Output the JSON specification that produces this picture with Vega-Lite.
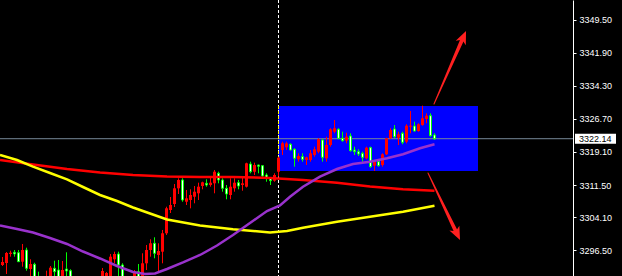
{
  "$schema": "https://vega.github.io/schema/vega-lite/v6.json",
  "width": 573,
  "height": 276,
  "autosize": {"type": "none"},
  "padding": {"left": 0, "top": 0, "right": 49, "bottom": 0},
  "background": "#000000",
  "config": {
    "view": {"stroke": null},
    "axisY": {"labelOverlap": false, "labelFlush": false, "labelBound": false, "labelSeparation": 0, "grid": false}
  },
  "resolve": {"axis": {"y": "independent", "x": "independent"}},
  "datasets": {
    "candles": [
      {"i":0,"o":3293.11,"h":3294.95,"l":3292.88,"c":3293.80},
      {"i":1,"o":3293.57,"h":3296.10,"l":3291.04,"c":3295.87},
      {"i":2,"o":3295.64,"h":3296.40,"l":3295.02,"c":3295.94},
      {"i":3,"o":3296.03,"h":3296.56,"l":3295.02,"c":3295.64},
      {"i":4,"o":3295.94,"h":3296.56,"l":3293.80,"c":3293.87},
      {"i":5,"o":3293.87,"h":3297.94,"l":3292.72,"c":3296.56},
      {"i":6,"o":3296.56,"h":3297.09,"l":3291.80,"c":3292.35},
      {"i":7,"o":3292.19,"h":3294.42,"l":3290.12,"c":3293.34},
      {"i":8,"o":3293.27,"h":3293.64,"l":3289.20,"c":3289.66},
      {"i":9,"o":3289.66,"h":3291.57,"l":3288.05,"c":3288.51},
      {"i":10,"o":3287.82,"h":3289.66,"l":3287.36,"c":3288.97},
      {"i":11,"o":3289.20,"h":3291.80,"l":3288.74,"c":3290.58},
      {"i":12,"o":3290.12,"h":3292.88,"l":3289.66,"c":3292.49},
      {"i":13,"o":3292.35,"h":3294.10,"l":3290.12,"c":3291.57},
      {"i":14,"o":3291.96,"h":3294.26,"l":3289.20,"c":3289.66},
      {"i":15,"o":3289.66,"h":3294.03,"l":3289.20,"c":3291.96},
      {"i":16,"o":3292.19,"h":3296.03,"l":3290.12,"c":3291.73},
      {"i":17,"o":3291.80,"h":3292.12,"l":3288.28,"c":3289.20},
      {"i":18,"o":3289.20,"h":3289.89,"l":3286.90,"c":3287.82},
      {"i":19,"o":3286.90,"h":3289.43,"l":3286.44,"c":3288.28},
      {"i":20,"o":3288.28,"h":3288.97,"l":3285.98,"c":3286.90},
      {"i":21,"o":3286.90,"h":3287.82,"l":3285.52,"c":3286.21},
      {"i":22,"o":3285.98,"h":3288.05,"l":3285.52,"c":3287.36},
      {"i":23,"o":3287.36,"h":3289.66,"l":3286.90,"c":3288.74},
      {"i":24,"o":3288.74,"h":3289.43,"l":3286.90,"c":3287.82},
      {"i":25,"o":3289.20,"h":3292.42,"l":3288.74,"c":3291.73},
      {"i":26,"o":3289.20,"h":3291.50,"l":3288.51,"c":3291.27},
      {"i":27,"o":3289.66,"h":3295.64,"l":3289.20,"c":3295.02},
      {"i":28,"o":3294.42,"h":3296.17,"l":3293.50,"c":3295.64},
      {"i":29,"o":3295.64,"h":3296.17,"l":3290.58,"c":3293.11},
      {"i":30,"o":3293.11,"h":3293.50,"l":3289.20,"c":3289.66},
      {"i":31,"o":3288.74,"h":3290.35,"l":3287.82,"c":3289.89},
      {"i":32,"o":3289.66,"h":3290.12,"l":3288.28,"c":3288.97},
      {"i":33,"o":3289.66,"h":3291.96,"l":3289.20,"c":3291.57},
      {"i":34,"o":3291.57,"h":3293.34,"l":3289.43,"c":3289.89},
      {"i":35,"o":3290.12,"h":3295.80,"l":3289.66,"c":3293.50},
      {"i":36,"o":3293.50,"h":3297.71,"l":3291.96,"c":3296.56},
      {"i":37,"o":3296.56,"h":3299.02,"l":3295.02,"c":3298.10},
      {"i":38,"o":3298.10,"h":3299.48,"l":3294.65,"c":3295.80},
      {"i":39,"o":3295.41,"h":3298.10,"l":3291.57,"c":3296.33},
      {"i":40,"o":3296.17,"h":3301.16,"l":3293.50,"c":3300.40},
      {"i":41,"o":3300.40,"h":3306.51,"l":3300.01,"c":3306.14},
      {"i":42,"o":3305.75,"h":3308.74,"l":3305.06,"c":3306.90},
      {"i":43,"o":3307.13,"h":3311.73,"l":3306.44,"c":3310.74},
      {"i":44,"o":3310.74,"h":3313.04,"l":3309.43,"c":3312.65},
      {"i":45,"o":3312.65,"h":3313.04,"l":3307.66,"c":3308.05},
      {"i":46,"o":3307.66,"h":3310.35,"l":3306.90,"c":3308.44},
      {"i":47,"o":3308.05,"h":3310.51,"l":3306.14,"c":3309.20},
      {"i":48,"o":3308.81,"h":3311.27,"l":3307.29,"c":3309.96},
      {"i":49,"o":3309.59,"h":3312.03,"l":3308.05,"c":3311.11},
      {"i":50,"o":3311.27,"h":3312.26,"l":3310.51,"c":3312.12},
      {"i":51,"o":3311.89,"h":3312.81,"l":3311.11,"c":3311.50},
      {"i":52,"o":3311.50,"h":3313.41,"l":3311.11,"c":3312.03},
      {"i":53,"o":3311.89,"h":3314.95,"l":3309.59,"c":3314.56},
      {"i":54,"o":3314.19,"h":3314.56,"l":3311.89,"c":3312.65},
      {"i":55,"o":3312.65,"h":3313.04,"l":3309.96,"c":3310.74},
      {"i":56,"o":3310.74,"h":3311.50,"l":3308.21,"c":3309.43},
      {"i":57,"o":3309.20,"h":3313.04,"l":3308.21,"c":3311.11},
      {"i":58,"o":3310.74,"h":3313.04,"l":3309.96,"c":3312.03},
      {"i":59,"o":3312.03,"h":3312.65,"l":3310.51,"c":3311.27},
      {"i":60,"o":3311.50,"h":3313.41,"l":3310.19,"c":3311.89},
      {"i":61,"o":3311.11,"h":3316.63,"l":3310.93,"c":3316.49},
      {"i":62,"o":3316.33,"h":3316.86,"l":3314.19,"c":3314.56},
      {"i":63,"o":3314.56,"h":3316.63,"l":3313.80,"c":3316.10},
      {"i":64,"o":3316.10,"h":3316.17,"l":3314.19,"c":3315.80},
      {"i":65,"o":3315.94,"h":3316.10,"l":3313.04,"c":3313.57},
      {"i":66,"o":3313.80,"h":3314.19,"l":3312.26,"c":3313.27},
      {"i":67,"o":3313.04,"h":3313.23,"l":3311.50,"c":3312.49},
      {"i":68,"o":3312.49,"h":3314.19,"l":3312.26,"c":3313.80},
      {"i":69,"o":3314.56,"h":3317.94,"l":3313.41,"c":3317.78},
      {"i":70,"o":3319.55,"h":3321.46,"l":3318.40,"c":3321.09},
      {"i":71,"o":3320.17,"h":3321.46,"l":3319.55,"c":3321.09},
      {"i":72,"o":3320.86,"h":3321.09,"l":3319.39,"c":3319.55},
      {"i":73,"o":3319.71,"h":3319.94,"l":3315.71,"c":3317.64},
      {"i":74,"o":3317.41,"h":3318.79,"l":3316.86,"c":3318.17},
      {"i":75,"o":3318.01,"h":3318.79,"l":3316.86,"c":3317.41},
      {"i":76,"o":3317.25,"h":3318.01,"l":3316.10,"c":3317.87},
      {"i":77,"o":3317.25,"h":3319.55,"l":3316.86,"c":3318.79},
      {"i":78,"o":3318.40,"h":3320.31,"l":3318.01,"c":3319.71},
      {"i":79,"o":3319.16,"h":3322.24,"l":3318.79,"c":3322.01},
      {"i":80,"o":3321.85,"h":3322.01,"l":3316.86,"c":3317.87},
      {"i":81,"o":3317.64,"h":3322.60,"l":3316.86,"c":3320.70},
      {"i":82,"o":3320.70,"h":3324.54,"l":3320.31,"c":3324.31},
      {"i":83,"o":3323.75,"h":3326.44,"l":3323.39,"c":3324.54},
      {"i":84,"o":3324.31,"h":3324.54,"l":3322.01,"c":3322.24},
      {"i":85,"o":3322.24,"h":3323.75,"l":3321.46,"c":3321.69},
      {"i":86,"o":3321.69,"h":3323.52,"l":3321.09,"c":3322.60},
      {"i":87,"o":3322.77,"h":3323.39,"l":3319.16,"c":3319.39},
      {"i":88,"o":3319.55,"h":3320.31,"l":3318.40,"c":3319.16},
      {"i":89,"o":3319.16,"h":3319.71,"l":3318.17,"c":3318.63},
      {"i":90,"o":3318.79,"h":3319.16,"l":3316.86,"c":3317.87},
      {"i":91,"o":3317.64,"h":3320.31,"l":3317.41,"c":3320.08},
      {"i":92,"o":3320.08,"h":3320.31,"l":3315.48,"c":3315.71},
      {"i":93,"o":3315.94,"h":3317.25,"l":3314.72,"c":3316.86},
      {"i":94,"o":3316.86,"h":3317.25,"l":3315.71,"c":3315.94},
      {"i":95,"o":3316.10,"h":3318.79,"l":3315.71,"c":3318.56},
      {"i":96,"o":3318.56,"h":3322.37,"l":3318.40,"c":3322.24},
      {"i":97,"o":3322.24,"h":3324.54,"l":3322.14,"c":3324.14},
      {"i":98,"o":3324.37,"h":3325.29,"l":3322.24,"c":3322.60},
      {"i":99,"o":3322.37,"h":3323.75,"l":3320.70,"c":3323.16},
      {"i":100,"o":3323.39,"h":3323.75,"l":3320.86,"c":3321.32},
      {"i":101,"o":3321.46,"h":3325.46,"l":3321.09,"c":3325.13},
      {"i":102,"o":3324.90,"h":3328.51,"l":3323.39,"c":3325.13},
      {"i":103,"o":3325.06,"h":3326.05,"l":3323.75,"c":3323.92},
      {"i":104,"o":3323.92,"h":3325.69,"l":3323.75,"c":3325.46},
      {"i":105,"o":3325.29,"h":3329.73,"l":3325.13,"c":3326.83},
      {"i":106,"o":3326.67,"h":3327.98,"l":3325.69,"c":3327.43},
      {"i":107,"o":3327.43,"h":3327.98,"l":3322.60,"c":3322.83},
      {"i":108,"o":3323.00,"h":3323.39,"l":3321.85,"c":3322.14}
    ],
    "ma": [
      {"ma":"slow","i":-0.625,"p":3317.25},{"ma":"slow","i":7.625,"p":3316.21},{"ma":"slow","i":16.125,"p":3315.18},
      {"ma":"slow","i":24.375,"p":3314.37},{"ma":"slow","i":32.625,"p":3313.80},{"ma":"slow","i":41.125,"p":3313.46},
      {"ma":"slow","i":49.375,"p":3313.34},{"ma":"slow","i":57.625,"p":3313.34},{"ma":"slow","i":66.875,"p":3313.11},
      {"ma":"slow","i":75.125,"p":3312.65},{"ma":"slow","i":83.625,"p":3312.03},{"ma":"slow","i":91.875,"p":3311.16},
      {"ma":"slow","i":100.125,"p":3310.51},{"ma":"slow","i":108,"p":3310.19},
      {"ma":"mid","i":-0.625,"p":3318.40},{"ma":"mid","i":3.625,"p":3317.25},{"ma":"mid","i":7.625,"p":3315.71},
      {"ma":"mid","i":11.875,"p":3314.26},{"ma":"mid","i":16.125,"p":3312.81},{"ma":"mid","i":20.125,"p":3311.04},
      {"ma":"mid","i":24.375,"p":3309.20},{"ma":"mid","i":28.625,"p":3307.82},{"ma":"mid","i":32.625,"p":3306.33},
      {"ma":"mid","i":36.875,"p":3304.95},{"ma":"mid","i":41.125,"p":3303.57},{"ma":"mid","i":49.375,"p":3302.19},
      {"ma":"mid","i":57.625,"p":3301.32},{"ma":"mid","i":66.875,"p":3300.58},{"ma":"mid","i":71.125,"p":3300.93},
      {"ma":"mid","i":75.125,"p":3301.68},{"ma":"mid","i":83.625,"p":3303.06},{"ma":"mid","i":91.875,"p":3304.21},
      {"ma":"mid","i":100.125,"p":3305.36},{"ma":"mid","i":108,"p":3306.74},
      {"ma":"fast","i":-0.625,"p":3302.19},{"ma":"fast","i":3.625,"p":3301.39},{"ma":"fast","i":7.625,"p":3300.58},
      {"ma":"fast","i":11.875,"p":3299.32},{"ma":"fast","i":16.125,"p":3297.94},{"ma":"fast","i":20.125,"p":3296.21},
      {"ma":"fast","i":24.375,"p":3294.61},{"ma":"fast","i":28.625,"p":3292.88},{"ma":"fast","i":32.625,"p":3291.50},
      {"ma":"fast","i":35.625,"p":3291.04},{"ma":"fast","i":38.125,"p":3291.16},{"ma":"fast","i":41.125,"p":3292.19},
      {"ma":"fast","i":45.125,"p":3293.69},{"ma":"fast","i":49.375,"p":3295.41},{"ma":"fast","i":53.625,"p":3297.59},
      {"ma":"fast","i":57.625,"p":3300.01},{"ma":"fast","i":61.875,"p":3302.77},{"ma":"fast","i":66.125,"p":3305.52},
      {"ma":"fast","i":69.375,"p":3306.79},{"ma":"fast","i":71.875,"p":3308.81},{"ma":"fast","i":75.125,"p":3311.11},
      {"ma":"fast","i":79.375,"p":3313.41},{"ma":"fast","i":83.625,"p":3315.18},{"ma":"fast","i":87.625,"p":3316.33},
      {"ma":"fast","i":91.875,"p":3316.86},{"ma":"fast","i":96.125,"p":3317.64},{"ma":"fast","i":100.125,"p":3318.56},
      {"ma":"fast","i":104.375,"p":3319.94},{"ma":"fast","i":108,"p":3320.86}
    ],
    "zone": [{"i0": 68.875, "i1": 118.875, "top": 3329.66, "bottom": 3314.72, "sep": 69}],
    "bid": [{"p": 3322.14, "txt": "3322.14"}],
    "arrows": [
      {"arrow": "up", "seg": 0, "i": 107.875, "p": 3330.12},
      {"arrow": "up", "seg": 1, "i": 115.19, "p": 3345.46},
      {"arrow": "down", "seg": 0, "i": 106.375, "p": 3314.26},
      {"arrow": "down", "seg": 1, "i": 113.64, "p": 3300.28}
    ],
    "heads": [
      {"arrow": "up", "i": 115.19, "p": 3345.46, "heading": 23.7},
      {"arrow": "down", "i": 113.64, "p": 3300.28, "heading": 154.5}
    ]
  },
  "layer": [
    {
      "data": {"name": "zone"},
      "mark": {"type": "rect", "color": "#0000ff"},
      "encoding": {
        "x": {"field": "i0", "type": "quantitative", "scale": {"domain": [-0.625, 142.625], "nice": false, "zero": false, "padding": 0}, "axis": null},
        "x2": {"field": "i1"},
        "y": {"field": "top", "type": "quantitative", "title": null, "scale": {"domain": [3290.58, 3354.03], "nice": false, "zero": false, "padding": 0},
          "axis": {"orient": "right", "values": [3296.5, 3304.1, 3311.5, 3319.1, 3326.7, 3334.3, 3341.9, 3349.5], "format": ".2f",
            "title": null, "grid": false, "domainColor": "#ffffff", "domainWidth": 1, "tickColor": "#ffffff", "tickSize": 3,
            "labelColor": "#ffffff", "labelFont": "Liberation Sans", "labelFontSize": 9, "labelPadding": 3,
            "labelOverlap": false, "labelFlush": false, "labelBound": false, "labelSeparation": 0}},
        "y2": {"field": "bottom"}
      }
    },
    {
      "data": {"name": "bid"},
      "mark": {"type": "rule", "color": "#778899", "strokeWidth": 1},
      "encoding": {
        "y": {"field": "p", "type": "quantitative", "axis": null}
      }
    },
    {
      "data": {"name": "zone"},
      "mark": {"type": "rule", "color": "#ffffff", "strokeWidth": 1, "strokeDash": [3, 2]},
      "encoding": {
        "x": {"field": "sep", "type": "quantitative", "axis": null}
      }
    },
    {
      "data": {"name": "zone"},
      "mark": {"type": "rule", "color": "#ffff00", "strokeWidth": 1, "strokeDash": [3, 2]},
      "encoding": {
        "x": {"field": "sep", "type": "quantitative", "axis": null},
        "y": {"field": "top", "type": "quantitative", "axis": null},
        "y2": {"field": "bottom"}
      }
    },
    {
      "data": {"name": "candles"},
      "mark": {"type": "rule", "strokeWidth": 1, "clip": true},
      "encoding": {
        "x": {"field": "i", "type": "quantitative", "axis": null},
        "y": {"field": "l", "type": "quantitative", "axis": null},
        "y2": {"field": "h"},
        "color": {"condition": {"test": "datum.c >= datum.o", "value": "#ff0000"}, "value": "#00ff00"}
      }
    },
    {
      "data": {"name": "candles"},
      "transform": [{"filter": "datum.c >= datum.o"}],
      "mark": {"type": "bar", "size": 3, "color": "#ff0000", "clip": true},
      "encoding": {
        "x": {"field": "i", "type": "quantitative", "axis": null},
        "y": {"field": "o", "type": "quantitative", "axis": null},
        "y2": {"field": "c"}
      }
    },
    {
      "data": {"name": "candles"},
      "transform": [{"filter": "datum.c < datum.o"}],
      "mark": {"type": "bar", "size": 2, "fill": "#ffffff", "stroke": "#00ff00", "strokeWidth": 1, "clip": true},
      "encoding": {
        "x": {"field": "i", "type": "quantitative", "axis": null},
        "y": {"field": "o", "type": "quantitative", "axis": null},
        "y2": {"field": "c"}
      }
    },
    {
      "data": {"name": "ma"},
      "mark": {"type": "line", "strokeWidth": 2.5, "clip": true},
      "encoding": {
        "x": {"field": "i", "type": "quantitative", "axis": null},
        "y": {"field": "p", "type": "quantitative", "axis": null},
        "color": {"field": "ma", "type": "nominal", "legend": null,
          "scale": {"domain": ["slow", "mid", "fast"], "range": ["#ff0000", "#ffff00", "#9932cc"]}}
      }
    },
    {
      "data": {"name": "arrows"},
      "mark": {"type": "trail", "color": "#ff2020"},
      "encoding": {
        "x": {"field": "i", "type": "quantitative", "axis": null},
        "y": {"field": "p", "type": "quantitative", "axis": null},
        "detail": {"field": "arrow"},
        "order": {"field": "seg"},
        "size": {"field": "seg", "type": "quantitative", "legend": null, "scale": {"domain": [0, 1], "range": [1, 4]}}
      }
    },
    {
      "data": {"name": "heads"},
      "mark": {"type": "point", "filled": true, "opacity": 1, "color": "#ff2020", "size": 190,
        "shape": "M0,-1L0.8,0.9L0,0.4L-0.8,0.9Z"},
      "encoding": {
        "x": {"field": "i", "type": "quantitative", "axis": null},
        "y": {"field": "p", "type": "quantitative", "axis": null},
        "angle": {"field": "heading", "type": "quantitative", "scale": {"domain": [0, 360], "range": [0, 360]}}
      }
    },
    {
      "data": {"name": "bid"},
      "mark": {"type": "bar", "color": "#ffffff", "size": 10, "clip": false},
      "encoding": {
        "x": {"datum": 143.125, "type": "quantitative", "axis": null},
        "x2": {"datum": 153.375},
        "y": {"field": "p", "type": "quantitative", "axis": null}
      }
    },
    {
      "data": {"name": "bid"},
      "mark": {"type": "text", "color": "#000000", "align": "left", "baseline": "middle", "font": "Liberation Sans", "fontSize": 9, "clip": false},
      "encoding": {
        "x": {"datum": 144.125, "type": "quantitative", "axis": null},
        "y": {"field": "p", "type": "quantitative", "axis": null},
        "text": {"field": "txt"}
      }
    }
  ]
}
